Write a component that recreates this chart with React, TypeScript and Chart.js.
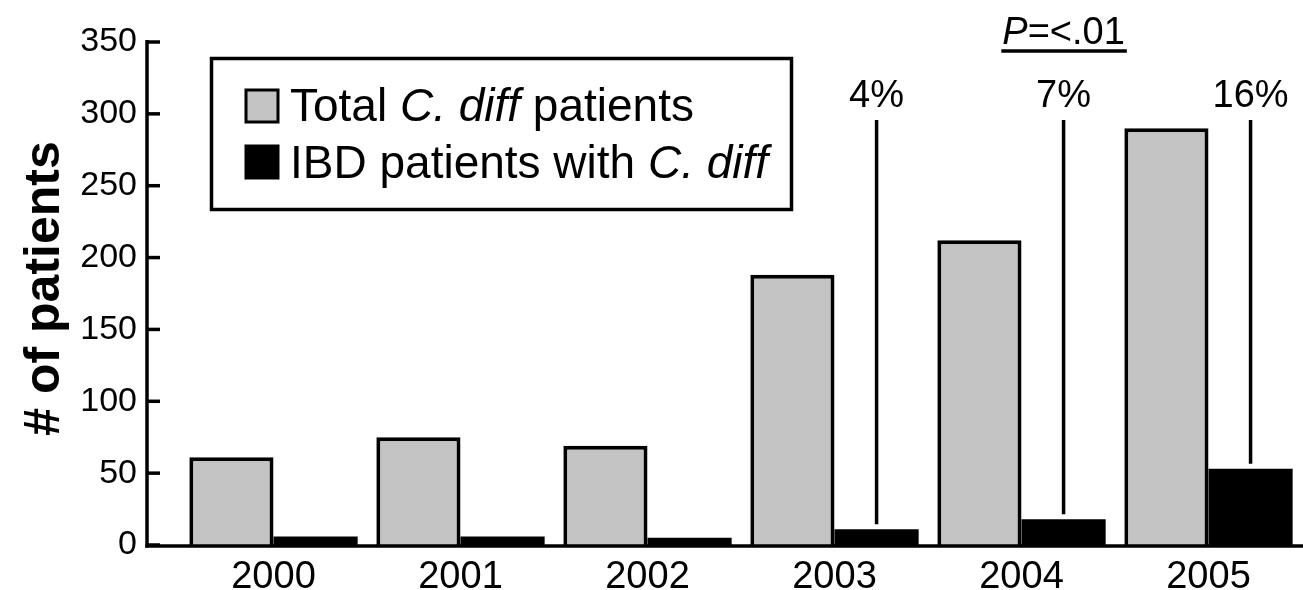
import React, { useEffect, useRef } from 'react';
import { Chart, registerables } from 'chart.js';

Chart.register(...registerables);

const years = ['2000', '2001', '2002', '2003', '2004', '2005'];
const totalCDiff = [61, 75, 69, 188, 212, 290];
const ibdCDiff = [6, 6, 5, 11, 18, 53];
const percentLabels = ['', '', '', '4%', '7%', '16%'];
const yTickMax = 350;
const yTickStep = 50;
const yTitle = '# of patients';
const pValueItalic = 'P';
const pValueRest = '=<.01';
const pValueYearIndex = 4;
const legendTotal = [
  { t: 'Total ', i: false },
  { t: 'C. diff', i: true },
  { t: ' patients', i: false },
];
const legendIbd = [
  { t: 'IBD patients with ', i: false },
  { t: 'C. diff', i: true },
];

const FONT = '"Liberation Sans", Arial, Helvetica, sans-serif';
const GRAY = '#c3c3c3';

function drawRich(ctx: CanvasRenderingContext2D, parts: { t: string; i: boolean }[], x: number, y: number, size: number) {
  let cx = x;
  ctx.textAlign = 'left';
  ctx.textBaseline = 'alphabetic';
  for (const p of parts) {
    ctx.font = `${p.i ? 'italic ' : ''}${size}px ${FONT}`;
    ctx.fillText(p.t, cx, y);
    cx += ctx.measureText(p.t).width;
  }
}

const overlay = {
  id: 'overlay',
  afterDraw(chart: any) {
    const { ctx, chartArea, scales } = chart;
    const ys = scales.y;
    const y0 = ys.getPixelForValue(0);
    const yTop = ys.getPixelForValue(yTickMax);
    const axisX = chartArea.left - 33;
    ctx.save();
    ctx.strokeStyle = '#000';
    ctx.fillStyle = '#000';
    ctx.lineWidth = 3.5;
    ctx.lineCap = 'butt';
    // y axis line
    ctx.beginPath();
    ctx.moveTo(axisX, yTop - 2);
    ctx.lineTo(axisX, y0 + 2.5);
    ctx.stroke();
    // x axis line
    ctx.beginPath();
    ctx.moveTo(axisX - 1.75, y0 + 1);
    ctx.lineTo(chart.width, y0 + 1);
    ctx.stroke();
    // inward tick marks
    ys.ticks.forEach((t: any) => {
      const py = ys.getPixelForValue(t.value);
      ctx.beginPath();
      ctx.moveTo(axisX, py);
      ctx.lineTo(axisX + 13, py);
      ctx.stroke();
    });
    // y title
    ctx.save();
    ctx.translate(45, (yTop + y0) / 2 - 5);
    ctx.rotate(-Math.PI / 2);
    ctx.font = `bold 50px ${FONT}`;
    ctx.textAlign = 'center';
    ctx.textBaseline = 'middle';
    ctx.fillText(yTitle, 0, 0);
    ctx.restore();

    // legend
    ctx.fillStyle = '#fff';
    ctx.fillRect(211.5, 58.5, 580, 151);
    ctx.lineWidth = 3.5;
    ctx.strokeRect(211.5, 58.5, 580, 151);
    ctx.lineWidth = 3;
    ctx.fillStyle = GRAY;
    ctx.fillRect(246, 90, 32, 32);
    ctx.strokeRect(246, 90, 32, 32);
    ctx.fillStyle = '#000';
    ctx.fillRect(244.5, 144.5, 35, 35);
    drawRich(ctx, legendTotal, 290, 121, 46);
    drawRich(ctx, legendIbd, 290, 178, 46);

    // percent annotations
    ctx.lineWidth = 3.5;
    const meta = chart.getDatasetMeta(1);
    ctx.font = `38px ${FONT}`;
    ctx.textAlign = 'center';
    ctx.textBaseline = 'alphabetic';
    percentLabels.forEach((lab, i) => {
      if (!lab) return;
      const el = meta.data[i];
      ctx.fillText(lab, el.x, 107);
      ctx.beginPath();
      ctx.moveTo(el.x, 120);
      ctx.lineTo(el.x, el.y - 5);
      ctx.stroke();
    });

    // P value
    const pel = meta.data[pValueYearIndex];
    ctx.font = `italic 38px ${FONT}`;
    const w1 = ctx.measureText(pValueItalic).width;
    ctx.font = `38px ${FONT}`;
    const w2 = ctx.measureText(pValueRest).width;
    const start = pel.x - (w1 + w2) / 2;
    ctx.textAlign = 'left';
    ctx.font = `italic 38px ${FONT}`;
    ctx.fillText(pValueItalic, start, 44);
    ctx.font = `38px ${FONT}`;
    ctx.fillText(pValueRest, start + w1, 44);
    ctx.beginPath();
    ctx.moveTo(start - 1, 51);
    ctx.lineTo(start + w1 + w2 + 2, 51);
    ctx.stroke();
    ctx.restore();
  },
};

export default function App() {
  const ref = useRef<HTMLCanvasElement>(null);
  useEffect(() => {
    document.body.style.margin = '0';
    const chart = new Chart(ref.current!, {
      type: 'bar',
      data: {
        labels: years,
        datasets: [
          {
            label: 'Total C. diff patients',
            data: totalCDiff,
            backgroundColor: GRAY,
            borderColor: '#000',
            borderWidth: 4,
            barPercentage: 1,
            categoryPercentage: 0.9,
          },
          {
            label: 'IBD patients with C. diff',
            data: ibdCDiff,
            backgroundColor: '#000',
            borderWidth: 0,
            barPercentage: 1,
            categoryPercentage: 0.9,
          },
        ],
      },
      options: {
        animation: false,
        responsive: true,
        maintainAspectRatio: false,
        layout: { padding: { top: 42, right: 1, left: 0, bottom: 0 } },
        plugins: { legend: { display: false }, tooltip: { enabled: false } },
        scales: {
          x: {
            grid: { display: false, drawTicks: false },
            border: { display: false },
            ticks: { color: '#000', font: { family: FONT, size: 38 }, padding: 10 },
            afterFit: (s: any) => {
              s.height = 45;
              s.paddingLeft = 0;
              s.paddingRight = 0;
            },
          },
          y: {
            min: 0,
            max: yTickMax,
            grid: { display: false, drawTicks: false },
            border: { display: false },
            ticks: { stepSize: yTickStep, color: '#000', font: { family: FONT, size: 34 }, padding: 43 },
            afterFit: (s: any) => {
              s.width = 180;
              s.paddingTop = 0;
              s.paddingBottom = 0;
            },
          },
        },
      },
      plugins: [overlay],
    });
    return () => chart.destroy();
  }, []);
  return (
    <div style={{ width: 1303, height: 590, position: 'relative', background: '#fff' }}>
      <canvas ref={ref} />
    </div>
  );
}
